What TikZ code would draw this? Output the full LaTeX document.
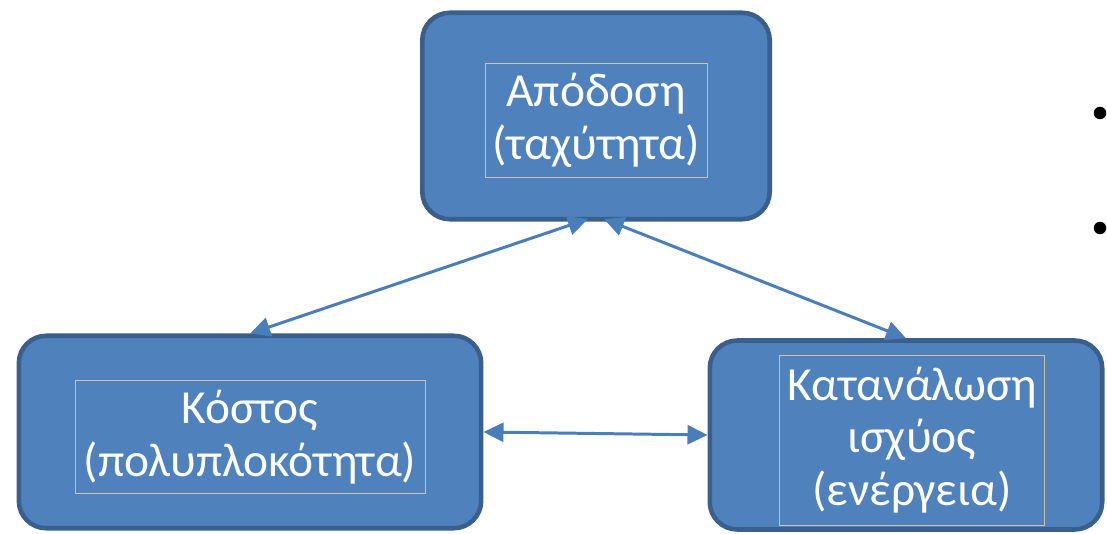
\documentclass[tikz,border=0pt]{standalone}
\usepackage{fontspec}
\setmainfont{Carlito}
\usetikzlibrary{arrows.meta}
\definecolor{boxfill}{HTML}{4F81BD}
\definecolor{boxline}{HTML}{3A5F8C}
\definecolor{arrowcol}{HTML}{4A7EBB}
\definecolor{innerline}{HTML}{C9C3B0}
\begin{document}
\begin{tikzpicture}[x=0.02cm,y=-0.02cm]
        \useasboundingbox (0,0) rectangle (1107,534);

        \begin{scope}[every node/.style={draw=boxline, fill=boxfill, line width=2.6pt, rounded corners=0.55cm}]
          \node[minimum width=6.95cm, minimum height=4.13cm] (perf)  at (596,116)  {};
          \node[minimum width=9.25cm, minimum height=3.85cm] (cost)  at (250,432)  {};
          \node[minimum width=7.85cm, minimum height=3.78cm] (power) at (906,435)  {};
        \end{scope}

        \begin{scope}[every node/.style={draw=innerline, line width=0.5pt, text=white, align=center, inner sep=0pt, font=\fontsize{27pt}{30pt}\selectfont}]
          \node[minimum width=4.44cm, minimum height=2.28cm] (perftext)  at (596,120)  {Απόδοση\\(ταχύτητα)};
          \node[minimum width=7cm, minimum height=2.26cm] (costtext)  at (250,437)  {Κόστος\\(πολυπλοκότητα)};
          \node[minimum width=5.3cm, minimum height=3.4cm] (powertext) at (912,440)  {Κατανάλωση\\ισχύος\\(ενέργεια)};
        \end{scope}

        \begin{scope}[every node/.style={circle, fill=black, inner sep=0pt, minimum size=0.25cm}]
          \node (dot1) at (1100,113) {};
          \node (dot2) at (1100,228) {};
        \end{scope}

        \begin{scope}[every edge/.style={draw=arrowcol, line width=1.7pt, {Triangle[length=0.4cm,width=0.38cm]}-{Triangle[length=0.4cm,width=0.38cm]}}]
          \path ([xshift=-0.16cm,yshift=0.05cm]perf.south)  edge (cost.north);
          \path ([xshift=0.16cm,yshift=0.05cm]perf.south)   edge (power.north);
          \path (cost.east)  edge (power.west);
        \end{scope}

      \end{tikzpicture}
\end{document}
